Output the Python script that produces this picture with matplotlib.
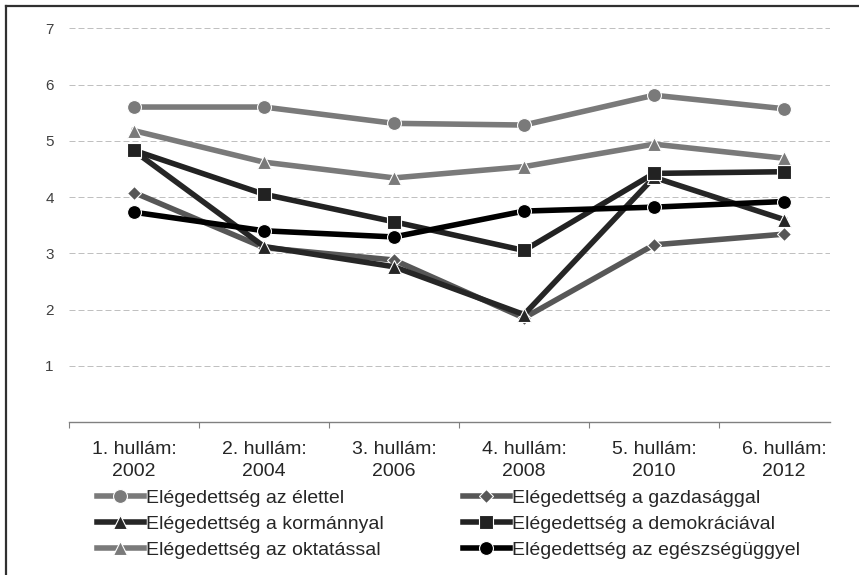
import numpy as np
import matplotlib
matplotlib.use('Agg')
import matplotlib.pyplot as plt
from matplotlib.lines import Line2D

plt.rcParams['font.family'] = ['Liberation Sans', 'DejaVu Sans']

# adatok
hullamok = ['1. hullám:\n2002', '2. hullám:\n2004', '3. hullám:\n2006',
            '4. hullám:\n2008', '5. hullám:\n2010', '6. hullám:\n2012']
elettel = [5.60, 5.60, 5.31, 5.28, 5.81, 5.57]
gazdasaggal = [4.08, 3.10, 2.88, 1.85, 3.15, 3.34]
kormannyal = [4.82, 3.12, 2.76, 1.91, 4.35, 3.60]
demokraciaval = [4.83, 4.05, 3.56, 3.05, 4.42, 4.45]
oktatassal = [5.18, 4.62, 4.34, 4.54, 4.94, 4.69]
egeszseguggyel = [3.73, 3.40, 3.29, 3.75, 3.82, 3.92]

sorok = [
    ('Elégedettség az élettel', elettel, '#7a7a7a', 'o', 10),
    ('Elégedettség a gazdasággal', gazdasaggal, '#575757', 'D', 7),
    ('Elégedettség a kormánnyal', kormannyal, '#262626', '^', 10.5),
    ('Elégedettség a demokráciával', demokraciaval, '#222222', 's', 10),
    ('Elégedettség az oktatással', oktatassal, '#7a7a7a', '^', 10.5),
    ('Elégedettség az egészségüggyel', egeszseguggyel, '#000000', 'o', 10),
]

fig = plt.figure(figsize=(8.59, 5.75), dpi=100)
ax = fig.add_axes([69 / 859, 153 / 575, 761 / 859, 393.7 / 575])

x = np.arange(len(hullamok))
handles = []
for nev, ert, szin, jel, meret in sorok:
    h, = ax.plot(x, ert, color=szin, lw=4, marker=jel, markersize=meret,
                 markerfacecolor=szin, markeredgecolor='white',
                 markeredgewidth=0.8, label=nev, clip_on=False)
    handles.append(h)

ax.set_ylim(0, 7)
ax.set_xlim(-0.5, -0.5 + 761 / 130)
ax.set_yticks(range(1, 8))
ax.yaxis.grid(True, color='#c0c0c0', lw=0.72, linestyle=(0, (6, 3)))
ax.set_axisbelow(True)
ax.tick_params(axis='y', length=0, pad=11, labelsize=11, labelcolor='#404040')

ax.set_xticks(x)
ax.set_xticklabels(hullamok, linespacing=1.35)
ax.set_xticks(np.arange(-0.5, 5.0, 1.0), minor=True)
ax.tick_params(axis='x', which='major', length=0, pad=14, labelsize=14,
               labelcolor='#262626')
ax.tick_params(axis='x', which='minor', length=4.5, width=0.8, color='#808080',
               direction='out')

for s in ['left', 'right', 'top']:
    ax.spines[s].set_visible(False)
ax.spines['bottom'].set_color('#808080')
ax.spines['bottom'].set_linewidth(1.0)

# jelmagyarázat soronként
sorrend = [0, 2, 4, 1, 3, 5]
leg = fig.legend([handles[i] for i in sorrend],
                 [handles[i].get_label() for i in sorrend],
                 loc='upper left', bbox_to_anchor=(97 / 859, 1 - 489 / 575),
                 ncol=2, frameon=False, fontsize=14, handlelength=2.4,
                 handletextpad=0.1, columnspacing=4.1, labelspacing=0.44,
                 borderpad=0, borderaxespad=0)
for t in leg.get_texts():
    t.set_color('#262626')

# keret
fig.add_artist(Line2D([6 / 859, 6 / 859], [0, 1 - 6 / 575], color='#303030', lw=1.6))
fig.add_artist(Line2D([6 / 859, 1], [1 - 6 / 575, 1 - 6 / 575], color='#303030', lw=1.6))

fig.savefig('out.png', dpi=100)
